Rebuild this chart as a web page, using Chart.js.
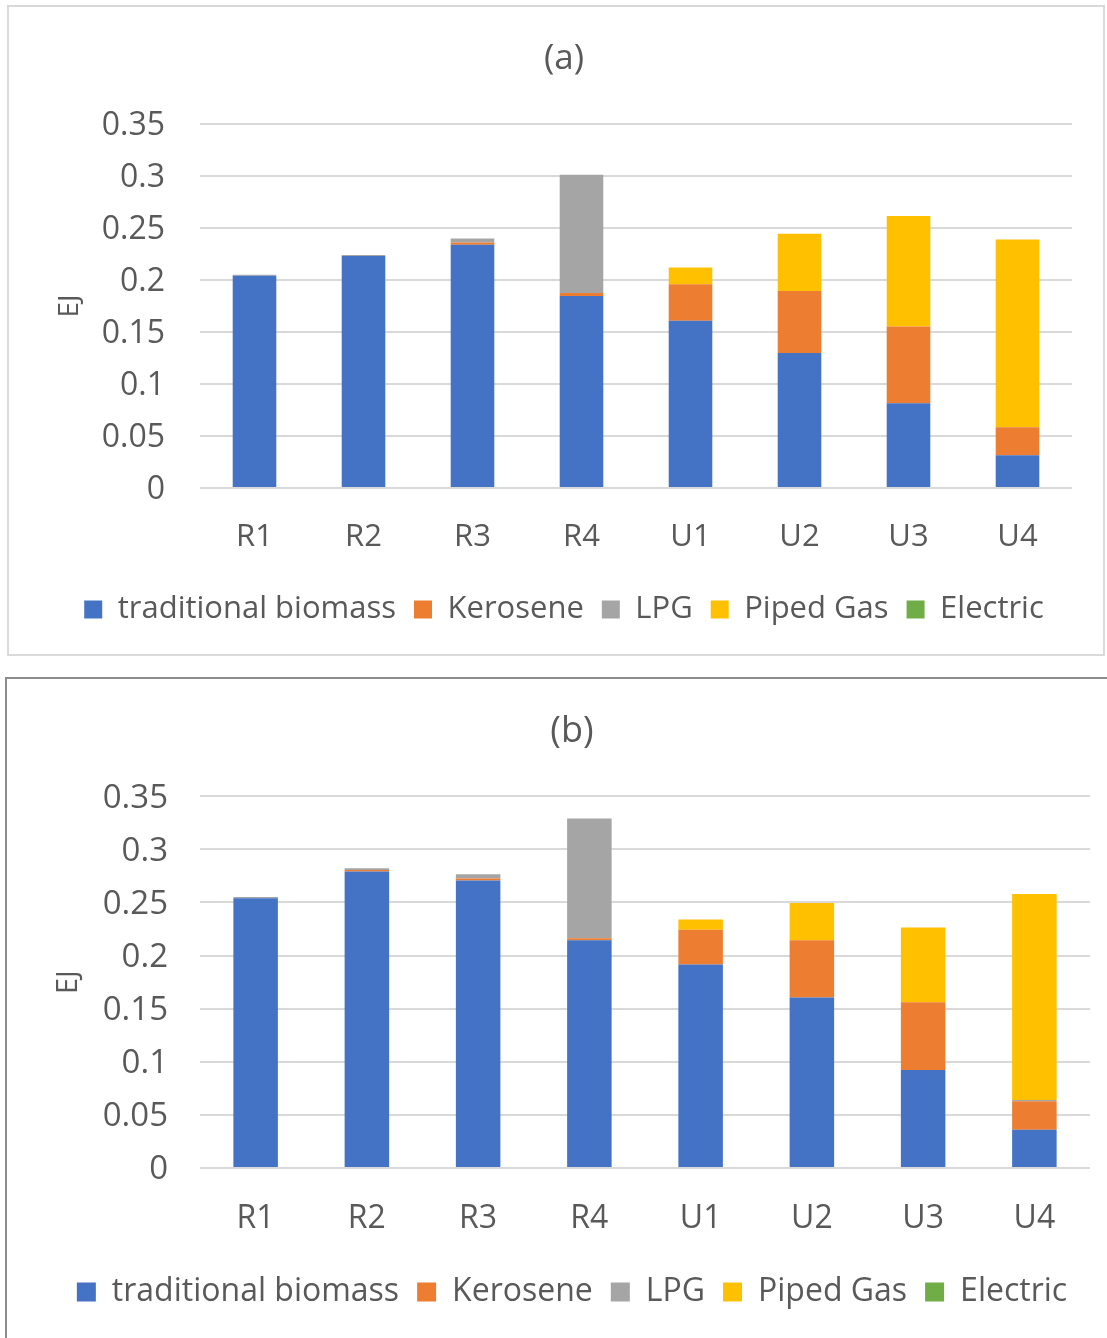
<!DOCTYPE html>
<html>
<head>
<meta charset="utf-8">
<script src="https://cdn.jsdelivr.net/npm/chart.js@4.4.0/dist/chart.umd.min.js"></script>
<style>
  body { margin: 0; background: #fff; width: 1107px; height: 1338px; position: relative; overflow: hidden; }
  .box { position: absolute; box-sizing: border-box; background: #fff; }
  #boxA { left: 7px; top: 5px; width: 1098px; height: 651px; border: 2px solid #d9d9d9; }
  #boxB { left: 5px; top: 677px; width: 1102px; height: 661px; border-top: 2px solid #8c8c8c; border-left: 2px solid #8c8c8c; }
  canvas { display: block; }
</style>
</head>
<body>
<div class="box" id="boxA"><canvas id="chartA"></canvas></div>
<div class="box" id="boxB"><canvas id="chartB"></canvas></div>
<script>
// categories and series (EJ)
const categories = ['R1', 'R2', 'R3', 'R4', 'U1', 'U2', 'U3', 'U4'];
const seriesNames = ['traditional biomass', 'Kerosene', 'LPG', 'Piped Gas', 'Electric'];
const seriesColors = ['#4472C4', '#ED7D31', '#A5A5A5', '#FFC000', '#70AD47'];

// panel (a)
const aBiomass  = [0.204, 0.223, 0.234, 0.1845, 0.1607, 0.1298, 0.0814, 0.0314];
const aKerosene = [0, 0, 0.002, 0.003, 0.0353, 0.0596, 0.0738, 0.0271];
const aLPG      = [0.001, 0.001, 0.004, 0.1137, 0, 0, 0, 0];
const aPiped    = [0, 0, 0, 0, 0.016, 0.0551, 0.1064, 0.1805];
const aElectric = [0, 0, 0, 0, 0, 0, 0, 0];

// panel (b)
const bBiomass  = [0.254, 0.279, 0.2706, 0.2143, 0.1916, 0.1604, 0.0923, 0.0359];
const bKerosene = [0, 0.0016, 0.002, 0.002, 0.0327, 0.0539, 0.0637, 0.027];
const bLPG      = [0.001, 0.0016, 0.004, 0.1128, 0, 0, 0, 0.001];
const bPiped    = [0, 0, 0, 0, 0.0097, 0.0352, 0.0705, 0.1941];
const bElectric = [0, 0, 0, 0, 0, 0, 0, 0];

const yMax = 0.35;
const yStep = 0.05;

const FONT = '"Open Sans", Lato, sans-serif';
const TEXT = '#595959';

function makeChart(id, w, h, title, series, s) {
  const canvas = document.getElementById(id);
  canvas.width = w;
  canvas.height = h;
  canvas.style.width = w + 'px';
  canvas.style.height = h + 'px';

  const datasets = series.map((d, i) => ({
    label: seriesNames[i],
    data: d,
    backgroundColor: seriesColors[i],
    borderWidth: 0,
    categoryPercentage: 1,
    barPercentage: 0.4
  }));

  return new Chart(canvas.getContext('2d'), {
    type: 'bar',
    data: { labels: categories, datasets: datasets },
    options: {
      responsive: false,
      animation: false,
      layout: { padding: { left: s.padLeft, right: s.padRight, top: 0, bottom: s.padBottom } },
      plugins: {
        tooltip: { enabled: false },
        title: {
          display: true,
          text: title,
          color: TEXT,
          font: { family: FONT, size: s.titleSize, weight: 'normal' },
          padding: { top: s.titleTop, bottom: s.titleBottom }
        },
        legend: {
          position: 'bottom',
          labels: {
            color: TEXT,
            font: { family: FONT, size: s.legendSize },
            boxWidth: s.box,
            boxHeight: s.box,
            padding: 18
          }
        }
      },
      scales: {
        x: {
          stacked: true,
          grid: { display: false, drawTicks: false },
          border: { display: false },
          ticks: { color: TEXT, font: { family: FONT, size: s.xTickSize }, padding: s.xPad },
          afterFit: (scale) => { scale.height = s.xHeight; }
        },
        y: {
          stacked: true,
          min: 0,
          max: yMax,
          grid: { color: '#d9d9d9', lineWidth: 2, drawTicks: false },
          border: { display: false },
          ticks: {
            stepSize: yStep,
            color: TEXT,
            font: { family: FONT, size: s.yTickSize },
            padding: s.yPad,
            labelOffset: 2,
            callback: (v) => String(+v.toFixed(2))
          },
          title: {
            display: true,
            text: 'EJ',
            color: TEXT,
            font: { family: FONT, size: s.axisTitleSize, lineHeight: 1 },
            padding: { top: 0, bottom: 0 }
          },
          afterFit: (scale) => { scale.width = s.yWidth; }
        }
      }
    }
  });
}

makeChart('chartA', 1094, 647, '(a)', [aBiomass, aKerosene, aLPG, aPiped, aElectric], {
  padLeft: 47, padRight: 31, padBottom: 19,
  titleSize: 35, titleTop: 31, titleBottom: 44,
  legendSize: 31, box: 18,
  xTickSize: 31, xPad: 31, xHeight: 88,
  yTickSize: 32, yPad: 35, yWidth: 144,
  axisTitleSize: 28
});

makeChart('chartB', 1100, 659, '(b)', [bBiomass, bKerosene, bLPG, bPiped, bElectric], {
  padLeft: 47, padRight: 17, padBottom: 20,
  titleSize: 36, titleTop: 31, titleBottom: 43,
  legendSize: 32, box: 19,
  xTickSize: 32, xPad: 32, xHeight: 90,
  yTickSize: 33, yPad: 32, yWidth: 146,
  axisTitleSize: 29
});
</script>
</body>
</html>
